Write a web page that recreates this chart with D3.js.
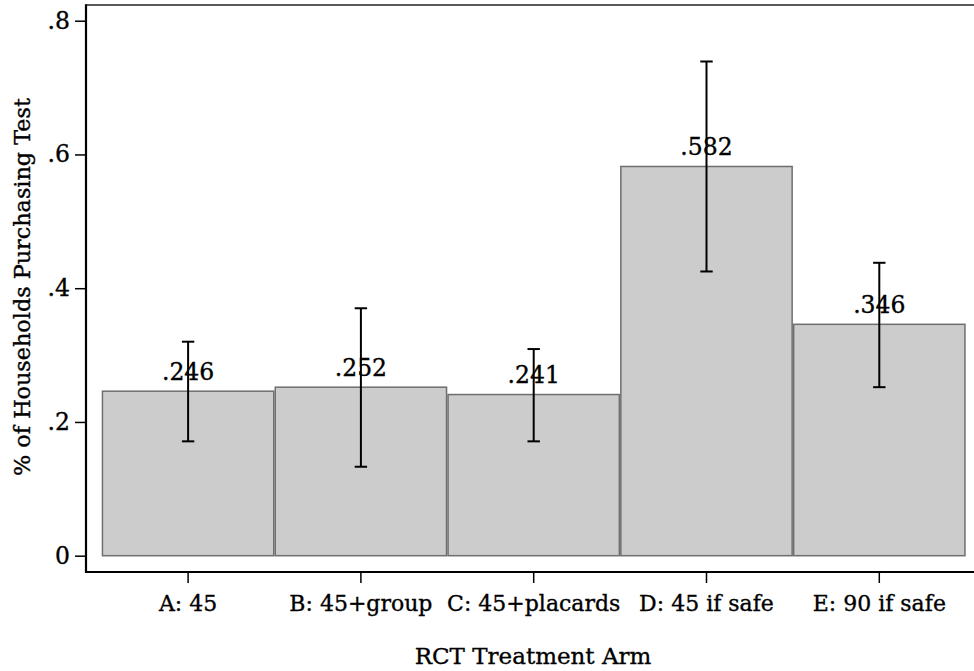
<!DOCTYPE html>
<html>
<head>
<meta charset="utf-8">
<script src="https://cdn.jsdelivr.net/npm/d3@7"></script>
<style>
  html, body { margin: 0; padding: 0; background: #ffffff; }
  svg { display: block; }
  text { font-family: "DejaVu Serif", serif; fill: #000; stroke: #000; stroke-width: 0.35px; }
</style>
</head>
<body>
<svg id="chart" width="974" height="671"></svg>
<script>
// ---- data ----
const categories = ["A: 45", "B: 45+group", "C: 45+placards", "D: 45 if safe", "E: 90 if safe"];
const means = [0.246, 0.252, 0.241, 0.582, 0.346];
const ciLow = [0.171, 0.133, 0.171, 0.425, 0.252];
const ciHigh = [0.320, 0.370, 0.309, 0.739, 0.438];
const yTicks = [0, 0.2, 0.4, 0.6, 0.8];
const xTitle = "RCT Treatment Arm";
const yTitle = "% of Households Purchasing Test";

// ---- layout ----
const svg = d3.select("#chart");
const frame = { left: 86, top: 5, bottom: 572, right: 982 };

const y = d3.scaleLinear().domain([0, 0.8]).range([555.7, 20.7]);
const x = d3.scaleBand().domain(categories).range([101.7, 965.7]).padding(0);

const fmt = v => (v === 0 ? "0" : d3.format(".1f")(v).replace(/^0/, ""));
const fmtVal = v => d3.format(".3f")(v).replace(/^0/, "");

// frame: top line
svg.append("line")
  .attr("x1", frame.left).attr("x2", 974)
  .attr("y1", frame.top).attr("y2", frame.top)
  .attr("stroke", "#222").attr("stroke-width", 1.5);

// bars
const data = categories.map((c, i) => ({ c, m: means[i], lo: ciLow[i], hi: ciHigh[i] }));

svg.append("g").selectAll("rect").data(data).join("rect")
  .attr("x", d => x(d.c) + 0.75)
  .attr("y", d => y(d.m))
  .attr("width", x.bandwidth() - 1.5)
  .attr("height", d => y(0) - y(d.m))
  .attr("fill", "#cccccc")
  .attr("stroke", "#6e6e6e")
  .attr("stroke-width", 1.5);

// value labels
svg.append("g").selectAll("text").data(data).join("text")
  .attr("x", d => x(d.c) + x.bandwidth() / 2)
  .attr("y", d => y(d.m) - 11.5)
  .attr("text-anchor", "middle")
  .style("font-size", "23.5px")
  .text(d => fmtVal(d.m));

// error bars
const eb = svg.append("g").attr("stroke", "#000").attr("stroke-width", 2);
const cx = d => x(d.c) + x.bandwidth() / 2;
eb.selectAll("line.v").data(data).join("line").attr("class", "v")
  .attr("x1", cx).attr("x2", cx)
  .attr("y1", d => y(d.hi)).attr("y2", d => y(d.lo));
eb.selectAll("line.t").data(data).join("line").attr("class", "t")
  .attr("x1", d => cx(d) - 6.2).attr("x2", d => cx(d) + 6.2)
  .attr("y1", d => y(d.hi)).attr("y2", d => y(d.hi));
eb.selectAll("line.b").data(data).join("line").attr("class", "b")
  .attr("x1", d => cx(d) - 6.2).attr("x2", d => cx(d) + 6.2)
  .attr("y1", d => y(d.lo)).attr("y2", d => y(d.lo));

// y axis
const yAxis = d3.axisLeft(y).tickValues(yTicks).tickFormat(fmt).tickSize(11).tickPadding(5);
const gy = svg.append("g").attr("transform", `translate(${frame.left},0)`).call(yAxis);
gy.select(".domain").remove();
gy.selectAll(".tick line").attr("stroke", "#000").attr("stroke-width", 1.5);
gy.selectAll(".tick text").style("font-size", "23.5px").attr("font-family", null);
svg.append("line")
  .attr("x1", frame.left).attr("x2", frame.left)
  .attr("y1", frame.top - 0.75).attr("y2", frame.bottom + 1)
  .attr("stroke", "#000").attr("stroke-width", 2.2);

// x axis
const xAxis = d3.axisBottom(x).tickSize(11).tickPadding(6);
const gx = svg.append("g").attr("transform", `translate(0,${frame.bottom})`).call(xAxis);
gx.select(".domain").remove();
gx.selectAll(".tick line").attr("stroke", "#000").attr("stroke-width", 1.5);
gx.selectAll(".tick text").style("font-size", "22px").attr("font-family", null)
  .attr("dy", null).attr("y", 39);
svg.append("line")
  .attr("x1", frame.left - 1).attr("x2", 974)
  .attr("y1", frame.bottom).attr("y2", frame.bottom)
  .attr("stroke", "#000").attr("stroke-width", 2.2);

// titles
svg.append("text")
  .attr("x", 533).attr("y", 664)
  .attr("text-anchor", "middle")
  .style("font-size", "23px")
  .text(xTitle);

svg.append("text")
  .attr("transform", "translate(30,287) rotate(-90)")
  .attr("text-anchor", "middle")
  .style("font-size", "22.3px")
  .text(yTitle);
</script>
</body>
</html>
